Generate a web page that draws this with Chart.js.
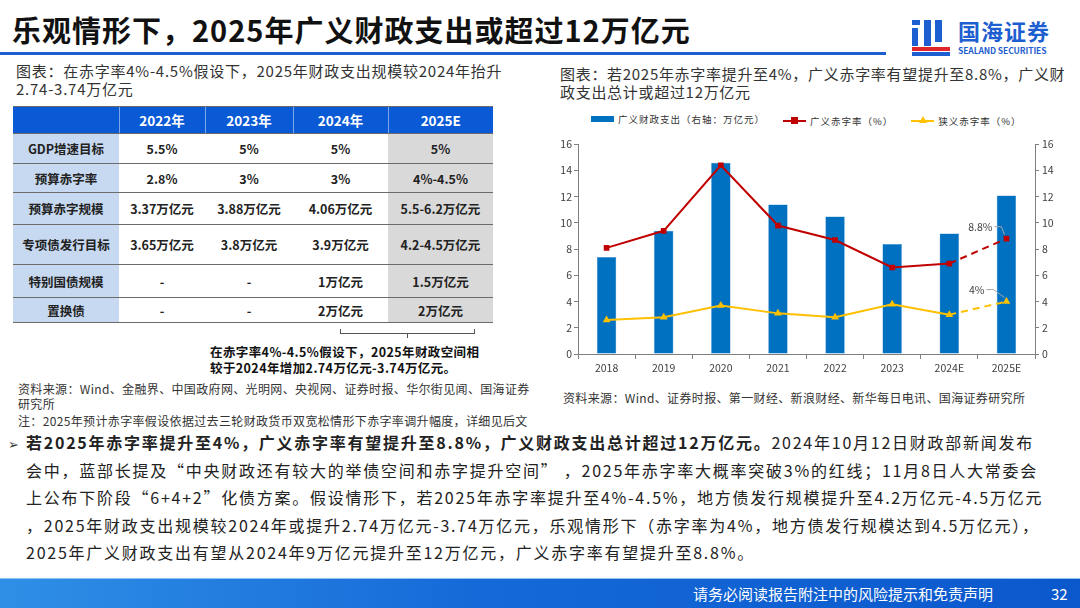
<!DOCTYPE html>
<html>
<head>
<meta charset="utf-8">
<script src="https://cdn.jsdelivr.net/npm/chart.js@4.4.1/dist/chart.umd.min.js"></script>
<style>
  html, body { margin: 0; padding: 0; }
  body { width: 1080px; height: 608px; position: relative; overflow: hidden; background: #fff;
         font-family: "Noto Sans CJK SC", "Noto Sans", sans-serif; color: #222; }
  .abs { position: absolute; white-space: nowrap; }
  #title { left: 12px; top: 9px; font-size: 29px; font-weight: 700; color: #111; letter-spacing: 1px; line-height: 40px; }
  #titleRule { left: 0; top: 52px; width: 886px; height: 3px; background: #1d5fd0; }
  .cap { font-size: 15px; color: #333; line-height: 18px; }
  table.fx { position: absolute; left: 13px; top: 106px; border-collapse: collapse; font-size: 12.5px; font-weight: 700; }
  table.fx td { text-align: center; padding: 0; border-bottom: 1.5px solid #6b6b6b; color: #222; }
  table.fx tr.hd td { background: #0a5ad6; color: #fff; font-size: 13.5px; border-top: 1.5px solid #6b6b6b;
                      border-left: 1px solid #7fa6ea; }
  table.fx tr.hd td:first-child { border-left: none; }
  table.fx td.lab { background: #c6d9f1; }
  table.fx td.est { background: #d9d9d9; }
  .src { font-size: 12px; color: #333; line-height: 15px; letter-spacing: 0.35px; }
  #legend { left: 591px; top: 111px; font-size: 9.5px; color: #333; letter-spacing: 1px; line-height: 14px; }
  #legend span.it { display: inline-flex; align-items: center; margin-right: 18px; }
  #legend i { display: inline-block; position: relative; margin-right: 4px; }
  #chartBox { position: absolute; left: 555px; top: 135px; width: 505px; height: 245px; }
  .body { font-size: 16px; color: #222; line-height: 27.6px; letter-spacing: 1.75px; }
  #footer { left: 0; top: 578px; width: 1080px; height: 30px;
            background: linear-gradient(90deg, #2f8fe6 0%, #1569d8 45%, #0b58cc 100%);
            border-top: 1px solid #8fc3f2; }
</style>
</head>
<body>
<div class="abs" id="title">乐观情形下，2025年广义财政支出或超过12万亿元</div>
<div class="abs" id="titleRule"></div>

<!-- logo -->
<div class="abs" style="left:912px;top:20px;width:38px;height:36px;">
  <div style="position:absolute;left:0;top:0;width:8px;height:5px;background:#1d5fd0"></div>
  <div style="position:absolute;left:0;top:8px;width:6px;height:18px;background:#1d5fd0"></div>
  <div style="position:absolute;left:12px;top:0;width:7px;height:26px;background:#1d5fd0"></div>
  <div style="position:absolute;left:23px;top:0;width:7px;height:22px;background:#1d5fd0"></div>
  <div style="position:absolute;left:0;top:27px;width:38px;height:4px;background:#e0262c"></div>
  <div style="position:absolute;left:0;top:32px;width:38px;height:4px;background:#1d5fd0"></div>
</div>
<div class="abs" style="left:958px;top:16px;font-size:22px;line-height:28px;font-weight:700;color:#1d5fd0;letter-spacing:1px;">国海证券</div>
<div class="abs" style="left:958px;top:45px;font-size:8.5px;line-height:10px;font-weight:700;color:#1d5fd0;letter-spacing:-0.1px;">SEALAND SECURITIES</div>

<!-- left panel -->
<div class="abs cap" style="left:16px;top:62px;letter-spacing:0.75px;">图表：在赤字率4%-4.5%假设下，2025年财政支出规模较2024年抬升<br>2.74-3.74万亿元</div>
<table class="fx">
  <colgroup><col style="width:106px"><col style="width:86px"><col style="width:88px"><col style="width:95px"><col style="width:105px"></colgroup>
  <tr class="hd" style="height:27px"><td></td><td>2022年</td><td>2023年</td><td>2024年</td><td>2025E</td></tr>
  <tr style="height:30px"><td class="lab">GDP增速目标</td><td>5.5%</td><td>5%</td><td>5%</td><td class="est">5%</td></tr>
  <tr style="height:29px"><td class="lab">预算赤字率</td><td>2.8%</td><td>3%</td><td>3%</td><td class="est">4%-4.5%</td></tr>
  <tr style="height:32px"><td class="lab">预算赤字规模</td><td>3.37万亿元</td><td>3.88万亿元</td><td>4.06万亿元</td><td class="est">5.5-6.2万亿元</td></tr>
  <tr style="height:40px"><td class="lab">专项债发行目标</td><td>3.65万亿元</td><td>3.8万亿元</td><td>3.9万亿元</td><td class="est">4.2-4.5万亿元</td></tr>
  <tr style="height:33px"><td class="lab">特别国债规模</td><td>-</td><td>-</td><td>1万亿元</td><td class="est">1.5万亿元</td></tr>
  <tr style="height:25px"><td class="lab">置换债</td><td>-</td><td>-</td><td>2万亿元</td><td class="est">2万亿元</td></tr>
</table>
<div class="abs" style="left:340px;top:329px;width:133px;height:4px;border:1px solid #555;border-top:none;"></div>
<div class="abs" style="left:407px;top:333px;width:1px;height:5px;background:#555;"></div>
<div class="abs" style="left:210px;top:344px;font-size:12.5px;font-weight:700;line-height:16px;color:#111;letter-spacing:0.4px;">在赤字率4%-4.5%假设下，2025年财政空间相<br>较于2024年增加2.74万亿元-3.74万亿元。</div>
<div class="abs src" style="left:18px;top:381px;">资料来源：Wind、金融界、中国政府网、光明网、央视网、证券时报、华尔街见闻、国海证券<br>研究所</div>
<div class="abs src" style="left:18px;top:413px;">注：2025年预计赤字率假设依据过去三轮财政货币双宽松情形下赤字率调升幅度，详细见后文</div>

<!-- right panel -->
<div class="abs cap" style="left:560px;top:65px;letter-spacing:0.7px;">图表：若2025年赤字率提升至4%，广义赤字率有望提升至8.8%，广义财<br>政支出总计或超过12万亿元</div>
<div class="abs" id="legend"></div>
<div id="chartBox"><canvas id="c"></canvas></div>
<div class="abs src" style="left:563px;top:390px;">资料来源：Wind、证券时报、第一财经、新浪财经、新华每日电讯、国海证券研究所</div>

<!-- body text -->
<div class="abs" style="left:8px;top:434px;font-size:13px;color:#333;">➢</div>
<div class="abs body" style="left:26px;top:429px;">
<b>若2025年赤字率提升至4%，广义赤字率有望提升至8.8%，广义财政支出总计超过12万亿元。</b>2024年10月12日财政部新闻发布<br>
会中，蓝部长提及“中央财政还有较大的举债空间和赤字提升空间” ，2025年赤字率大概率突破3%的红线；11月8日人大常委会<br>
上公布下阶段“6+4+2”化债方案。假设情形下，若2025年赤字率提升至4%-4.5%，地方债发行规模提升至4.2万亿元-4.5万亿元<br>
，2025年财政支出规模较2024年或提升2.74万亿元-3.74万亿元，乐观情形下（赤字率为4%，地方债发行规模达到4.5万亿元），<br>
2025年广义财政支出有望从2024年9万亿元提升至12万亿元，广义赤字率有望提升至8.8%。
</div>

<div class="abs" id="footer"></div>
<div class="abs" style="left:693px;top:583px;font-size:15px;color:#fff;">请务必阅读报告附注中的风险提示和免责声明</div>
<div class="abs" style="left:1051px;top:583px;font-size:15px;color:#fff;">32</div>

<script>
// ---- data ----
const years = ["2018", "2019", "2020", "2021", "2022", "2023", "2024E", "2025E"];
const spending = [7.4, 9.4, 14.6, 11.4, 10.5, 8.4, 9.2, 12.1];      // 广义财政支出, 万亿元
const broadDeficit = [8.1, 9.4, 14.4, 9.8, 8.7, 6.6, 6.9, 8.8];     // 广义赤字率 %
const narrowDeficit = [2.6, 2.8, 3.7, 3.1, 2.8, 3.8, 3.0, 4.0];     // 狭义赤字率 %
const callouts = ["8.8%", "4%"];
const axisMax = 16, axisStep = 2;

const FONT = '"Noto Sans CJK SC", "Liberation Sans", sans-serif';
const AXIS = "#7f7f7f";

// dashed segment for the estimate (2024E -> 2025E)
const estDash = ctx => ctx.p0DataIndex >= years.length - 2 ? [7, 5] : undefined;

// callout labels with leader lines on last points of the two lines
const calloutPlugin = {
  id: "callouts",
  afterDatasetsDraw(chart) {
    const c = chart.ctx;
    [1, 2].forEach((di, k) => {
      const pts = chart.getDatasetMeta(di).data;
      const p = pts[pts.length - 1];
      const gap = k === 0 ? 14 : 22;
      c.save();
      c.strokeStyle = "#a6a6a6";
      c.lineWidth = 1;
      c.beginPath();
      c.moveTo(p.x - gap + 2, p.y - 12);
      c.lineTo(p.x - gap + 9, p.y - 12);
      c.lineTo(p.x - 2, p.y - 4);
      c.stroke();
      c.fillStyle = "#404040";
      c.font = "10.5px " + FONT;
      c.textAlign = "right";
      c.textBaseline = "middle";
      c.fillText(callouts[k], p.x - gap, p.y - 12);
      c.restore();
    });
  }
};

const chart = new Chart(document.getElementById("c"), {
  data: {
    labels: years,
    datasets: [
      { type: "bar", label: "广义财政支出（右轴：万亿元）", data: spending, yAxisID: "yR",
        backgroundColor: "#0070c0", borderColor: "#3d8fd0", borderWidth: 0.5,
        barPercentage: 0.68, categoryPercentage: 0.5, order: 3 },
      { type: "line", label: "广义赤字率（%）", data: broadDeficit, yAxisID: "yL",
        borderColor: "#c00000", backgroundColor: "#c00000", borderWidth: 2,
        pointStyle: "rect", pointRadius: 4, pointBorderWidth: 0, tension: 0,
        segment: { borderDash: estDash }, order: 1 },
      { type: "line", label: "狭义赤字率（%）", data: narrowDeficit, yAxisID: "yL",
        borderColor: "#ffc000", backgroundColor: "#ffc000", borderWidth: 2,
        pointStyle: "triangle", pointRadius: 4.5, pointBorderWidth: 0, tension: 0,
        segment: { borderDash: estDash }, order: 2 }
    ]
  },
  options: {
    responsive: true,
    maintainAspectRatio: false,
    animation: false,
    layout: { padding: { top: 7, left: 0, right: 0, bottom: 0 } },
    plugins: { legend: { display: false }, tooltip: { enabled: false } },
    scales: {
      x: {
        grid: { display: true, drawOnChartArea: false, drawTicks: true, tickLength: 5, color: AXIS, offset: true },
        border: { display: true, color: AXIS, width: 1 },
        ticks: { color: "#404040", font: { size: 10.5, family: FONT }, padding: 3, maxRotation: 0 },
        afterFit: s => { s.height = 26; }
      },
      yL: {
        position: "left", min: 0, max: axisMax,
        grid: { display: true, drawOnChartArea: false, drawTicks: true, tickLength: 4, color: AXIS },
        border: { display: true, color: AXIS, width: 1 },
        ticks: { stepSize: axisStep, color: "#404040", font: { size: 10.5, family: FONT }, padding: 2 },
        afterFit: s => { s.width = 23; }
      },
      yR: {
        position: "right", min: 0, max: axisMax,
        grid: { display: true, drawOnChartArea: false, drawTicks: true, tickLength: 4, color: AXIS },
        border: { display: true, color: AXIS, width: 1 },
        ticks: { stepSize: axisStep, color: "#404040", font: { size: 10.5, family: FONT }, padding: 3 },
        afterFit: s => { s.width = 25; }
      }
    }
  },
  plugins: [calloutPlugin]
});

// html legend built from the datasets
const lg = document.getElementById("legend");
chart.data.datasets.forEach(ds => {
  const it = document.createElement("span");
  it.className = "it";
  const sw = document.createElement("i");
  if (ds.type === "bar") {
    sw.style.cssText = "width:23px;height:6px;background:" + ds.backgroundColor;
  } else {
    sw.style.cssText = "width:23px;height:2px;background:" + ds.borderColor;
    const mk = document.createElement("b");
    mk.style.cssText = ds.pointStyle === "rect"
      ? "position:absolute;left:8px;top:-3px;width:7px;height:7px;background:" + ds.borderColor
      : "position:absolute;left:8px;top:-4px;width:0;height:0;border-left:4px solid transparent;border-right:4px solid transparent;border-bottom:7px solid " + ds.borderColor;
    sw.appendChild(mk);
  }
  it.appendChild(sw);
  it.appendChild(document.createTextNode(ds.label));
  lg.appendChild(it);
});
</script>
</body>
</html>
